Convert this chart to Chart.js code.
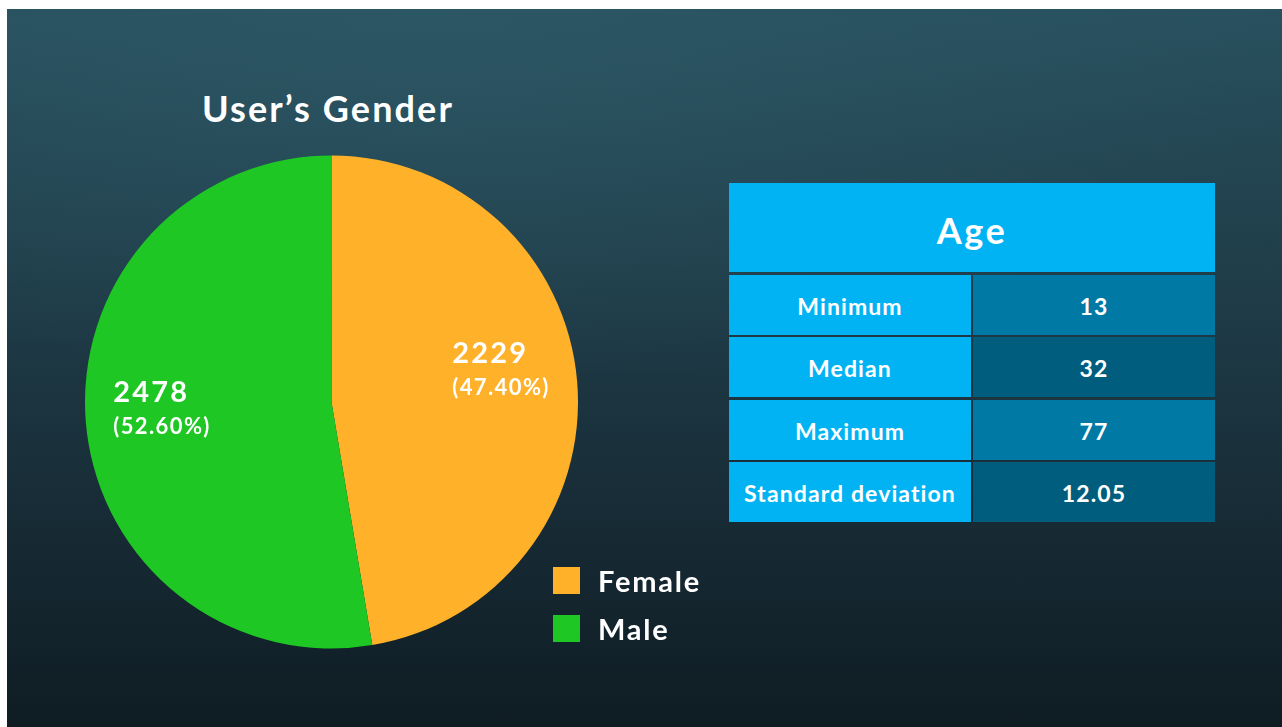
<!DOCTYPE html>
<html>
<head>
<meta charset="utf-8">
<script src="https://cdn.jsdelivr.net/npm/chart.js@4"></script>
<style>
  html, body { margin:0; padding:0; width:1282px; height:727px; overflow:hidden; background:#ffffff; }
  body { position:relative; font-family: Lato, "Open Sans", sans-serif; }
  #panel { position:absolute; left:7px; top:9px; width:1275px; height:718px;
    background:
      radial-gradient(ellipse 900px 380px at 420px 0px, rgba(48,92,106,0.55), rgba(48,92,106,0) 100%),
      linear-gradient(to bottom, #28505e 0%, #1f3c48 40%, #162933 75%, #0f1c23 100%); }
  #title { position:absolute; left:78px; top:86px; width:500px; text-align:center; color:#fff;
    font-weight:700; font-size:36px; letter-spacing:2.1px; }
  #pieWrap { position:absolute; left:85px; top:155px; width:493px; height:494px; }
  #legend { position:absolute; left:553px; top:567px; }
  .lg { position:relative; height:48px; }
  .lg .sw { position:absolute; left:0; top:0; width:27px; height:27px; }
  .lg .tx { position:absolute; left:45px; top:-3px; color:#fff; font-weight:700; font-size:29px; line-height:33px; letter-spacing:1.8px; }
  #table { position:absolute; left:729px; top:183px; width:486px; display:grid;
    grid-template-columns: 242px 242px; grid-template-rows: 89px 60px 60px 60px 60px;
    column-gap:2px; row-gap:2.5px; }
  .cell { display:flex; align-items:center; justify-content:center; color:#fff; font-weight:700; font-size:23px; letter-spacing:1.1px; padding-top:2px; box-sizing:border-box; }
  .hdr { grid-column: 1 / span 2; background:#02b3f4; font-size:36px; letter-spacing:2.5px; padding-top:4px; }
  .lc { background:#02b3f4; }
  .rc1 { background:#0079a4; }
  .rc2 { background:#005d7d; }
</style>
</head>
<body>
<div id="panel"></div>
<div id="title">User’s Gender</div>
<div id="pieWrap"><canvas id="pie"></canvas></div>
<div id="legend"></div>
<div id="table"></div>
<script>
const categories = ['Female', 'Male'];
const counts = [2229, 2478];
const percentLabels = ['(47.40%)', '(52.60%)'];
const sliceColors = ['#ffb12a', '#1ec723'];
const tableTitle = 'Age';
const statLabels = ['Minimum', 'Median', 'Maximum', 'Standard deviation'];
const statValues = ['13', '32', '77', '12.05'];

// legend
const lg = document.getElementById('legend');
categories.forEach((c, i) => {
  const d = document.createElement('div'); d.className = 'lg';
  const s = document.createElement('div'); s.className = 'sw'; s.style.background = sliceColors[i];
  const t = document.createElement('div'); t.className = 'tx'; t.textContent = c;
  d.appendChild(s); d.appendChild(t); lg.appendChild(d);
});

// table
const tb = document.getElementById('table');
const h = document.createElement('div'); h.className = 'cell hdr'; h.textContent = tableTitle; tb.appendChild(h);
statLabels.forEach((lab, i) => {
  const a = document.createElement('div'); a.className = 'cell lc'; a.textContent = lab; tb.appendChild(a);
  const b = document.createElement('div'); b.className = 'cell ' + (i % 2 === 0 ? 'rc1' : 'rc2'); b.textContent = statValues[i]; tb.appendChild(b);
});

const sliceLabels = {
  id: 'sliceLabels',
  afterDatasetsDraw(chart, args, opts) {
    const ctx = chart.ctx;
    const meta = chart.getDatasetMeta(0);
    meta.data.forEach((arc, i) => {
      const p = arc.getProps(['x', 'y', 'startAngle', 'endAngle', 'outerRadius'], true);
      const mid = (p.startAngle + p.endAngle) / 2;
      const r = p.outerRadius * opts.radiusFactor;
      const cx = p.x + Math.cos(mid) * r;
      const cy = p.y + Math.sin(mid) * r + opts.nudgeY[i];
      ctx.save();
      ctx.fillStyle = '#ffffff';
      ctx.textBaseline = 'middle';
      ctx.textAlign = 'left';
      const f1 = '700 29px Lato, sans-serif', f2 = '700 22px Lato, sans-serif';
      ctx.font = f1; ctx.letterSpacing = '2.2px';
      const l1 = String(counts[i]);
      const w1 = ctx.measureText(l1).width;
      ctx.font = f2; ctx.letterSpacing = '1.4px';
      const l2 = percentLabels[i];
      const w2 = ctx.measureText(l2).width;
      const left = cx - Math.max(w1, w2) / 2;
      ctx.font = f1; ctx.letterSpacing = '2.2px';
      ctx.fillText(l1, left, cy - 34);
      ctx.font = f2; ctx.letterSpacing = '1.4px';
      ctx.fillText(l2, left, cy);
      ctx.restore();
    });
  }
};

new Chart(document.getElementById('pie'), {
  type: 'pie',
  data: {
    labels: categories,
    datasets: [{ data: counts, backgroundColor: sliceColors, borderWidth: 0 }]
  },
  options: {
    responsive: true,
    maintainAspectRatio: false,
    animation: false,
    layout: { padding: 0 },
    plugins: {
      legend: { display: false },
      tooltip: { enabled: false },
      sliceLabels: { radiusFactor: 0.69, nudgeY: [0, 11] }
    }
  },
  plugins: [sliceLabels]
});
</script>
</body>
</html>
